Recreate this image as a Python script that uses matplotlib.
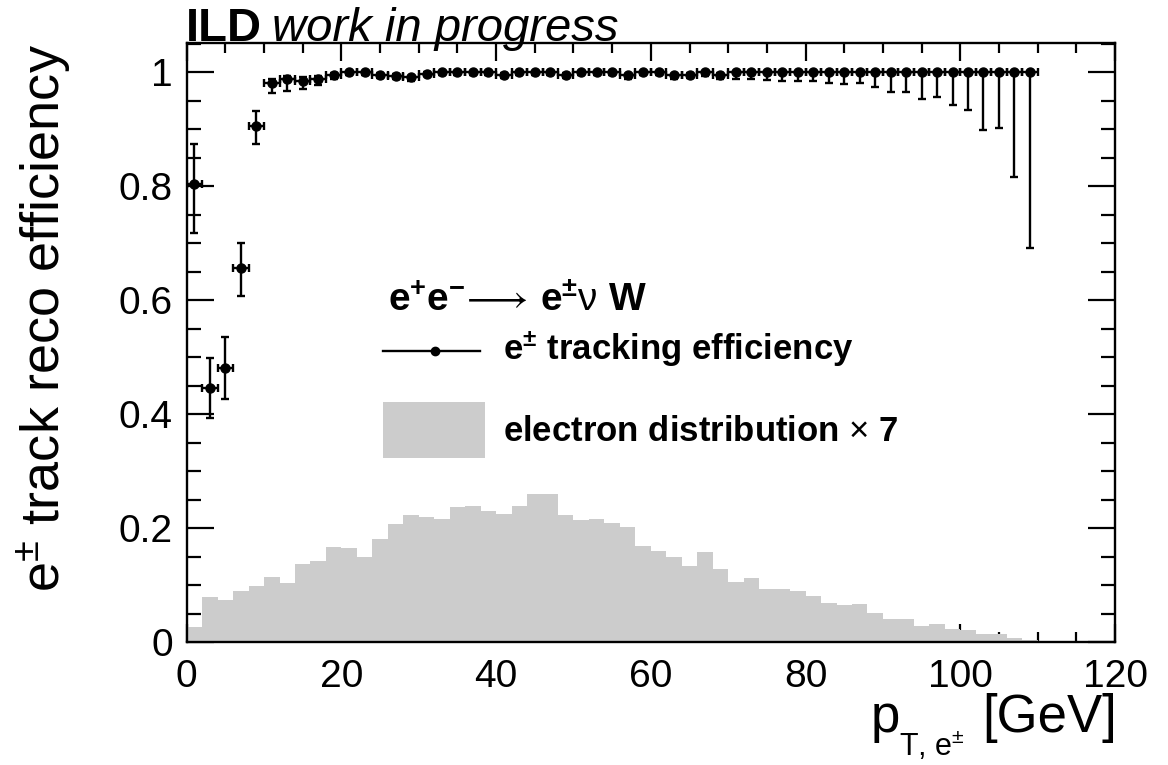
import numpy as np
import matplotlib
matplotlib.use("Agg")
import matplotlib.pyplot as plt
from matplotlib.ticker import MultipleLocator, FixedLocator, FixedFormatter

plt.rcParams['font.family'] = ['Liberation Sans', 'DejaVu Sans']
plt.rcParams['mathtext.fontset'] = 'custom'
plt.rcParams['mathtext.rm'] = 'Liberation Sans'
plt.rcParams['mathtext.it'] = 'Liberation Sans:italic'
plt.rcParams['mathtext.bf'] = 'Liberation Sans:bold'
plt.rcParams['mathtext.fallback'] = 'stixsans'

# ---------------- data ----------------
bin_width = 2.0
# electron pT distribution (x7), 60 bins of 2 GeV from 0 to 120
hist_vals = [0.027, 0.079, 0.075, 0.090, 0.099, 0.114, 0.104, 0.137, 0.143, 0.167,
             0.165, 0.150, 0.182, 0.208, 0.223, 0.220, 0.216, 0.238, 0.240, 0.231,
             0.225, 0.239, 0.260, 0.260, 0.223, 0.214, 0.216, 0.209, 0.202, 0.169,
             0.161, 0.149, 0.134, 0.159, 0.128, 0.105, 0.112, 0.0935, 0.093, 0.090,
             0.082, 0.069, 0.065, 0.068, 0.051, 0.041, 0.041, 0.029, 0.032, 0.023,
             0.0215, 0.014, 0.015, 0.008, 0.004, 0.003, 0.003, 0.002, 0.002, 0.002]

# tracking efficiency, bin centres 1..109 GeV
eff = [0.805, 0.446, 0.482, 0.656, 0.906, 0.982, 0.988, 0.985, 0.989, 0.996,
       1.000, 1.000, 0.996, 0.994, 0.991, 0.998, 1.000, 1.000, 1.000, 1.000,
       0.996, 1.000, 1.000, 1.000, 0.996, 1.000, 1.000, 1.000, 0.995, 1.000,
       1.000, 0.995, 0.996, 1.000, 0.996, 1.000, 1.000, 1.000, 1.000, 1.000,
       1.000, 1.000, 1.000, 1.000, 1.000, 1.000, 1.000, 1.000, 1.000, 1.000,
       1.000, 1.000, 1.000, 1.000, 1.000]
eff_err_lo = [0.0875, 0.052, 0.055, 0.048, 0.032, 0.019, 0.020, 0.015, 0.011, 0.008,
              0.004, 0.004, 0.006, 0.006, 0.006, 0.005, 0.004, 0.004, 0.004, 0.004,
              0.006, 0.004, 0.004, 0.004, 0.006, 0.004, 0.004, 0.005, 0.006, 0.005,
              0.005, 0.007, 0.006, 0.006, 0.007, 0.012, 0.012, 0.013, 0.015, 0.016,
              0.016, 0.019, 0.021, 0.019, 0.026, 0.034, 0.034, 0.047, 0.044, 0.058,
              0.066, 0.102, 0.098, 0.184, 0.309]
eff_err_hi = [0.069, 0.052, 0.053, 0.045, 0.026, 0.006, 0.005, 0.006, 0.005, 0.003,
              0.000, 0.000, 0.003, 0.003, 0.003, 0.002, 0.000, 0.000, 0.000, 0.000,
              0.003, 0.000, 0.000, 0.000, 0.003, 0.000, 0.000, 0.000, 0.003, 0.000,
              0.000, 0.003, 0.003, 0.000, 0.003, 0.000, 0.000, 0.000, 0.000, 0.000,
              0.000, 0.000, 0.000, 0.000, 0.000, 0.000, 0.000, 0.000, 0.000, 0.000,
              0.000, 0.000, 0.000, 0.000, 0.000]

x_ticks = [0, 20, 40, 60, 80, 100, 120]
x_ticklabels = ['0', '20', '40', '60', '80', '100', '120']
y_ticks = [0, 0.2, 0.4, 0.6, 0.8, 1.0]
y_ticklabels = ['0', '0.2', '0.4', '0.6', '0.8', '1']

# ---------------- figure ----------------
W, H = 1168, 765
fig = plt.figure(figsize=(W / 100, H / 100), dpi=100)
ax_l, ax_r, ax_b, ax_t = 186.7, 1115.0, 642.3, 43.3
ax = fig.add_axes([ax_l / W, 1 - ax_b / H, (ax_r - ax_l) / W, (ax_b - ax_t) / H])
ax.set_xlim(0, 120)
ax.set_ylim(0, 1.051)

hist_left = np.arange(len(hist_vals)) * bin_width
ax.bar(hist_left, hist_vals, width=bin_width, align='edge', color='#cccccc',
       linewidth=0, zorder=1.6)

x_c = np.arange(len(eff)) * bin_width + bin_width / 2
ax.errorbar(x_c, eff, xerr=bin_width / 2, yerr=[eff_err_lo, eff_err_hi], fmt='o',
            color='black', ms=6.5, elinewidth=1.7, capsize=2.8, capthick=1.7,
            zorder=3)

# axes styling (ROOT-like)
for s in ax.spines.values():
    s.set_linewidth(1.7)
ax.xaxis.set_major_locator(FixedLocator(x_ticks))
ax.xaxis.set_major_formatter(FixedFormatter(x_ticklabels))
ax.xaxis.set_minor_locator(MultipleLocator(5))
ax.yaxis.set_major_locator(FixedLocator(y_ticks))
ax.yaxis.set_major_formatter(FixedFormatter(y_ticklabels))
ax.yaxis.set_minor_locator(MultipleLocator(0.05))
ax.tick_params(which='both', direction='in', top=True, right=True, width=1.6,
               labelsize=28)
ax.tick_params(axis='y', which='major', length=19.5, pad=10)
ax.tick_params(axis='y', which='minor', length=10)
ax.tick_params(axis='x', which='major', length=13, pad=12)
ax.tick_params(axis='x', which='minor', length=7.5)

# axis titles
fig.text(45 / W, 1 - 44 / H, r'e$^{\pm}$ track reco efficiency', rotation=90,
         ha='center', va='top', fontsize=39)
fig.text(871 / W, 1 - 732 / H, 'p', ha='left', va='baseline', fontsize=38)
fig.text(899 / W, 1 - 756 / H, r'T, e$^{\pm}$', ha='left', va='baseline', fontsize=22)
fig.text(1117 / W, 1 - 732 / H, '[GeV]', ha='right', va='baseline', fontsize=38)

# header
fig.text(186 / W, 1 - 41 / H, 'ILD', ha='left', va='baseline', fontsize=34,
         fontweight='bold')
fig.text(272 / W, 1 - 41 / H, 'work in progress', ha='left', va='baseline',
         fontsize=34, fontstyle='italic')

# legend (manual, ROOT style)
def px2ax(px, py):
    return (px - ax_l) / (ax_r - ax_l), (ax_b - py) / (ax_b - ax_t)

hx, hy = px2ax(388, 311)
ax.text(hx, hy,
        r'$\mathbf{e^{+}e^{-}}\!\longrightarrow\,\mathbf{e^{\pm}}\mathrm{\nu}\ \mathbf{W}$',
        transform=ax.transAxes, ha='left', va='baseline', fontsize=28, zorder=5)

lx0, ly = px2ax(383, 351)
lx1, _ = px2ax(480, 351)
lxm, _ = px2ax(435, 351)
ax.plot([lx0, lx1], [ly, ly], color='black', lw=1.7, transform=ax.transAxes,
        clip_on=False, zorder=5)
ax.plot([lxm], [ly], 'o', color='black', ms=6, transform=ax.transAxes,
        clip_on=False, zorder=5)
tx, ty = px2ax(503, 360)
ax.text(tx, ty, r'$\mathbf{e^{\pm}}$ tracking efficiency', transform=ax.transAxes,
        ha='left', va='baseline', fontsize=25, fontweight='bold', zorder=5)

bx0, by0 = px2ax(383, 458)
bx1, by1 = px2ax(485, 402)
ax.add_patch(plt.Rectangle((bx0, by0), bx1 - bx0, by1 - by0, transform=ax.transAxes,
                           facecolor='#cccccc', edgecolor='none', zorder=5))
tx2, ty2 = px2ax(503, 441)
ax.text(tx2, ty2, r'electron distribution $\times$ 7', transform=ax.transAxes,
        ha='left', va='baseline', fontsize=25, fontweight='bold', zorder=5)

fig.savefig('out.png', dpi=100)
